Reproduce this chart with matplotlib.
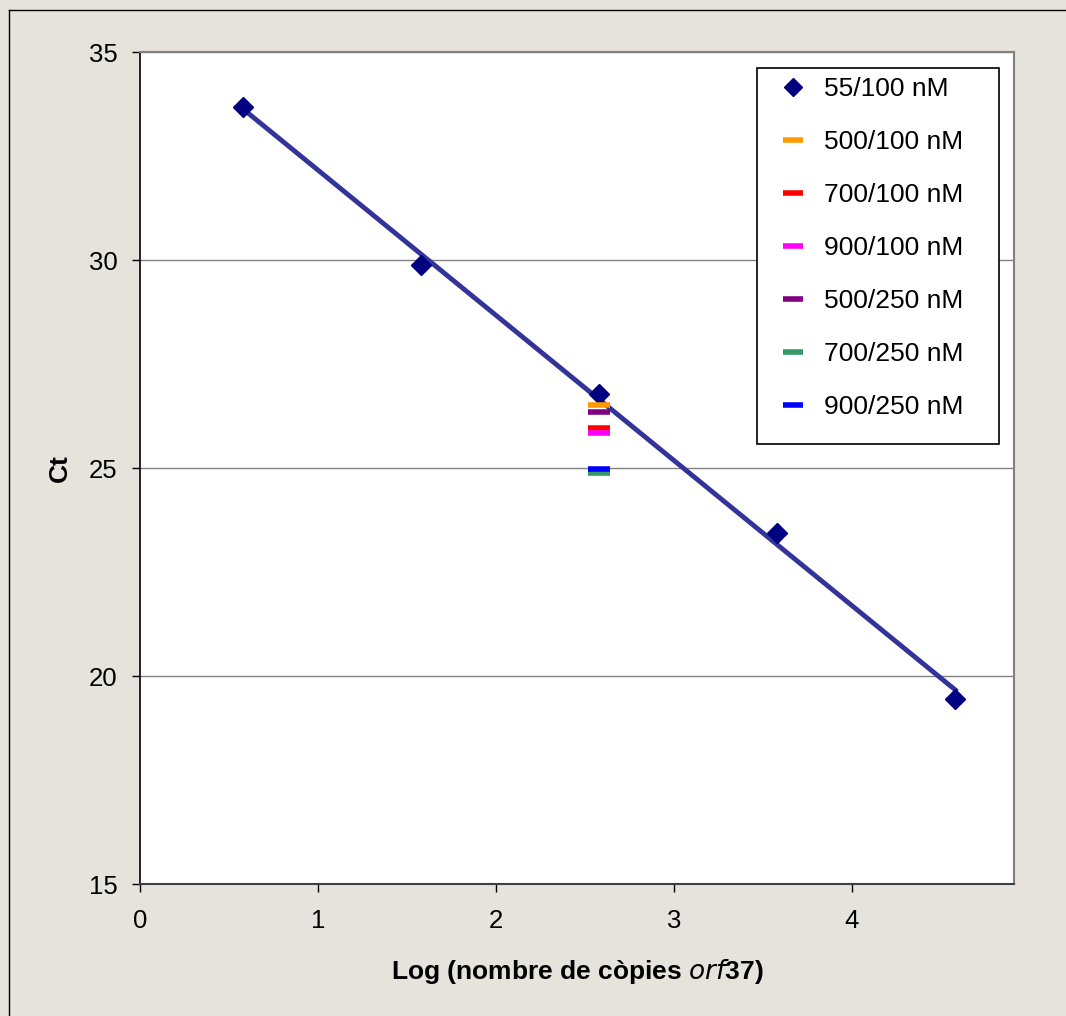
import numpy as np
import matplotlib.pyplot as plt
from matplotlib.patches import Rectangle
from matplotlib.lines import Line2D
from matplotlib.transforms import Bbox

plt.rcParams['font.family'] = ['Liberation Sans', 'DejaVu Sans']

# standard curve 55/100 nM
log_copies = [0.58, 1.58, 2.58, 3.58, 4.58]
ct_std = [33.68, 29.88, 26.78, 23.44, 19.45]

# other primer/probe combinations (only at log = 2.58)
combo_labels = ['500/100 nM', '700/100 nM', '900/100 nM',
                '500/250 nM', '700/250 nM', '900/250 nM']
combo_ct = [26.51, 25.95, 25.83, 26.34, 24.87, 24.98]
combo_x = [2.58, 2.58, 2.58, 2.58, 2.58, 2.58]
combo_colors = ['#FF9900', '#FF0000', '#FF00FF', '#800080', '#339966', '#0000FF']

bg = '#E6E2DC'
W, H = 1066, 1016
fig = plt.figure(figsize=(W / 100, H / 100), dpi=100, facecolor=bg)
ax = fig.add_axes([140 / W, 1 - 884 / H, (1014 - 140) / W, (884 - 52) / H])

# outer frame (only left / top visible in the crop)
fig.add_artist(Line2D([9 / W, 9 / W], [0, 1 - 10 / H], transform=fig.transFigure,
                      color='black', lw=1))
fig.add_artist(Line2D([9 / W, 1], [1 - 10 / H, 1 - 10 / H], transform=fig.transFigure,
                      color='black', lw=1))

ax.set_xlim(0, 4.91)
ax.set_ylim(15, 35)
ax.set_xticks([0, 1, 2, 3, 4])
ax.set_yticks([15, 20, 25, 30, 35])
ax.yaxis.grid(True, color='#808080', lw=1)
ax.set_axisbelow(True)

for s in ['top', 'right']:
    ax.spines[s].set_color('#808080')
    ax.spines[s].set_linewidth(1.5)
ax.spines['left'].set_color('black')
ax.spines['bottom'].set_color('#404040')
ax.spines['left'].set_linewidth(1.2)
ax.spines['bottom'].set_linewidth(1.5)
ax.tick_params(direction='out', length=6, width=1, labelsize=18.5)
ax.tick_params(axis='x', pad=12)
ax.tick_params(axis='y', pad=10)

# trend line
slope, icpt = np.polyfit(log_copies, ct_std, 1)
xs = np.array([log_copies[0], log_copies[-1]])
ax.plot(xs, slope * xs + icpt, color='#333399', lw=3.5, zorder=3)

ax.plot(log_copies, ct_std, linestyle='none', marker='D', color='#000080',
        markersize=10, zorder=4, label='55/100 nM')
handles = [Line2D([], [], linestyle='none', marker='D', color='#000080', markersize=9)]
for x, y, c, lab in zip(combo_x, combo_ct, combo_colors, combo_labels):
    ax.plot([x], [y], linestyle='none', marker='_', color=c, markersize=16,
            markeredgewidth=4, zorder=5)
    handles.append(Line2D([], [], linestyle='none', marker='_', color=c,
                          markersize=14, markeredgewidth=4))
handles.append(Line2D([], [], color='#333399', lw=3))
labels = ['55/100 nM'] + combo_labels + ['Lineal (55/100 nM)']

ax.set_xlabel('Log (nombre de còpies $\\it{orf}$37)', fontsize=19,
              fontweight='bold', labelpad=17)
ax.set_ylabel('Ct', fontsize=19, fontweight='bold', labelpad=12)

# legend box, clipped at the bottom like the original
box = Rectangle((757 / W, 1 - 444 / H), (999 - 757) / W, (444 - 68) / H,
                transform=fig.transFigure, facecolor='white', edgecolor='black',
                lw=1.2, zorder=10)
fig.add_artist(box)
leg = fig.legend(handles, labels, loc='upper left',
                 bbox_to_anchor=(780 / W, 1 - 77 / H), frameon=False,
                 fontsize=19, labelspacing=1.1, handlelength=1.0,
                 handletextpad=0.66, borderaxespad=0.0, borderpad=0.0)
leg.set_zorder(11)
clip = Bbox.from_extents(757, H - 443, 999, H - 68)
for t in leg.get_texts():
    t.set_clip_box(clip)
for h in leg.legend_handles:
    h.set_clip_box(clip)

fig.savefig('out.png', dpi=100, facecolor=bg)
